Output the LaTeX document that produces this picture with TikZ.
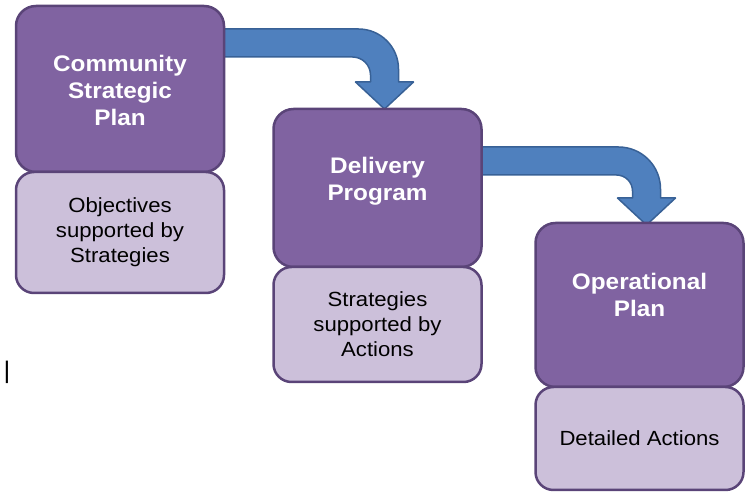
\documentclass[tikz,border=0pt]{standalone}
\usepackage{fontspec}
\setmainfont[FakeStretch=1.08]{Liberation Sans}
\usetikzlibrary{positioning,calc,backgrounds}

\definecolor{planfill}{RGB}{128,99,161}
\definecolor{planedge}{RGB}{90,68,120}
\definecolor{notefill}{RGB}{204,192,218}
\definecolor{arrowfill}{RGB}{79,128,190}
\definecolor{arrowedge}{RGB}{56,97,150}

\tikzset{
	planbox/.style={draw=planedge, fill=planfill, line width=2.5pt, rounded corners=20pt,
		minimum width=208pt, inner sep=0pt, outer sep=0pt},
	notebox/.style={draw=planedge, fill=notefill, line width=2.5pt, rounded corners=18pt,
		minimum width=208pt, outer sep=0pt, align=center, font=\fontsize{20.5}{25}\selectfont},
	title/.style={text=white, align=center, inner sep=0pt, font=\fontsize{22.5}{27}\selectfont\bfseries},
	flow/.style={draw=arrowedge, fill=arrowfill, line width=1.5pt, line join=round},
}

\begin{document}
\begin{tikzpicture}[x=1pt,y=1pt]
	\useasboundingbox (0,0) rectangle (747,498);
	
	% the three plans
	\node[planbox, minimum height=166pt] (csp) at (120,409) {};
	\node[notebox, minimum height=121pt, below=0pt of csp] (cspnote)
		{Objectives\\supported by\\Strategies};
	
	\node[planbox, minimum height=158pt] (dp) at (377.5,310) {};
	\node[notebox, minimum height=115pt, below=0pt of dp] (dpnote)
		{Strategies\\supported by\\Actions};
	
	\node[planbox, minimum height=164pt] (op) at (639.5,193) {};
	\node[notebox, minimum height=103pt, below=0pt of op] (opnote) {Detailed Actions};
	
	\node[title, below=49pt of csp.north] (csptitle) {Community\\Strategic\\Plan};
	\node[title, below=48pt of dp.north]  (dptitle)  {Delivery\\Program};
	\node[title, below=50pt of op.north]  (optitle)  {Operational\\Plan};
	
	\node[font=\fontsize{24}{24}\selectfont] (mark) at (7,126) {|};
	
	\coordinate (a1s) at ($(csp.north east)+(-12,-37)$); % arrow 1, shaft start
	\coordinate (a1t) at ($(dp.north)+(7,0)$);           % arrow 1, tip
	\coordinate (a2s) at ($(dp.north east)+(-12,-52)$);  % arrow 2, shaft start
	\coordinate (a2t) at ($(op.north)+(7,-2)$);          % arrow 2, tip
	
	\begin{scope}[on background layer]
		\draw[flow] ($(a1s)+(0,14)$) -- ($(a1t |- a1s)+(-26,14)$)
			arc[start angle=90, end angle=0, radius=40pt]
			-- ($(a1t)+(14,27)$) -- ($(a1t)+(29,27)$) -- (a1t)
			-- ($(a1t)+(-29,27)$) -- ($(a1t)+(-14,27)$) -- ($(a1t |- a1s)+(-14,-32)$)
			arc[start angle=0, end angle=90, radius=18pt] -- ($(a1s)+(0,-14)$) -- cycle;
		\draw[flow] ($(a2s)+(0,14)$) -- ($(a2t |- a2s)+(-28,14)$)
			arc[start angle=90, end angle=0, radius=42pt]
			-- ($(a2t)+(14,27)$) -- ($(a2t)+(29,27)$) -- (a2t)
			-- ($(a2t)+(-29,27)$) -- ($(a2t)+(-14,27)$) -- ($(a2t |- a2s)+(-14,-30)$)
			arc[start angle=0, end angle=90, radius=16pt] -- ($(a2s)+(0,-14)$) -- cycle;
	\end{scope}
	
\end{tikzpicture}
\end{document}
